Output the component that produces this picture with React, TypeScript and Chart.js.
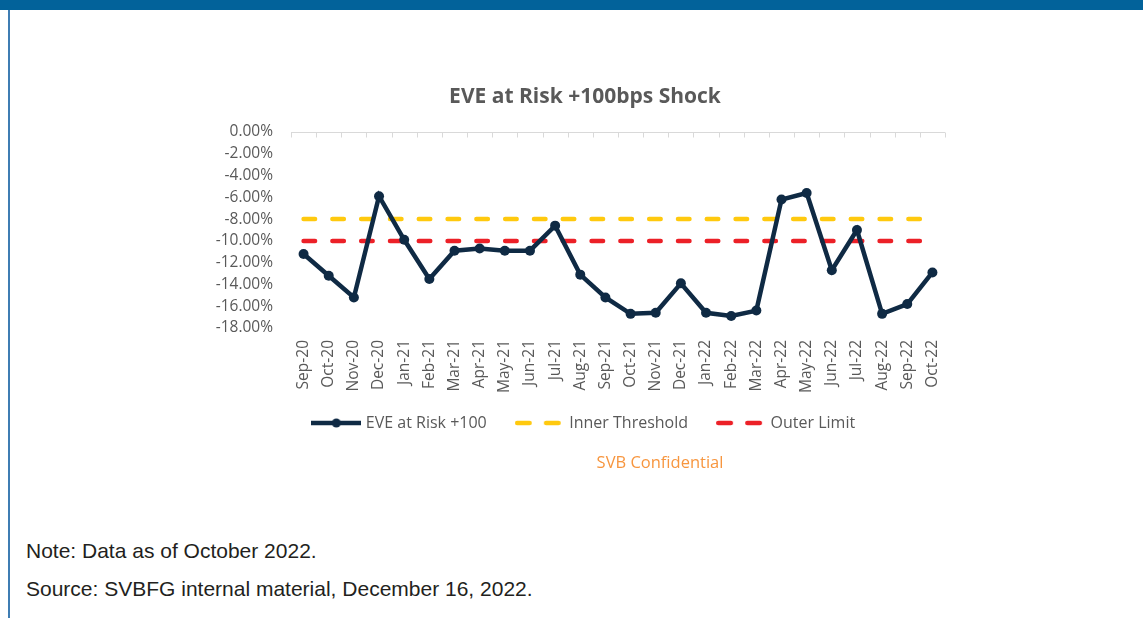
import React, { useEffect, useRef } from 'react';
import { Chart, registerables } from 'chart.js';

Chart.register(...registerables);

const categories = [
  'Sep-20', 'Oct-20', 'Nov-20', 'Dec-20',
  'Jan-21', 'Feb-21', 'Mar-21', 'Apr-21', 'May-21', 'Jun-21',
  'Jul-21', 'Aug-21', 'Sep-21', 'Oct-21', 'Nov-21', 'Dec-21',
  'Jan-22', 'Feb-22', 'Mar-22', 'Apr-22', 'May-22', 'Jun-22',
  'Jul-22', 'Aug-22', 'Sep-22', 'Oct-22',
];

const eveAtRisk = [
  -11.2, -13.2, -15.2, -5.9,
  -9.9, -13.5, -10.9, -10.7, -10.9, -10.9,
  -8.6, -13.1, -15.2, -16.7, -16.6, -13.9,
  -16.6, -16.9, -16.4, -6.2, -5.6, -12.7,
  -9.0, -16.7, -15.8, -12.9,
];

const innerThreshold = [
  -8, -8, -8, -8, -8, -8, -8, -8, -8, -8, -8, -8, -8,
  -8, -8, -8, -8, -8, -8, -8, -8, -8, -8, -8, -8, -8,
];

const outerLimit = [
  -10, -10, -10, -10, -10, -10, -10, -10, -10, -10, -10, -10, -10,
  -10, -10, -10, -10, -10, -10, -10, -10, -10, -10, -10, -10, -10,
];

const seriesNames = ['EVE at Risk +100', 'Inner Threshold', 'Outer Limit'];
const chartTitle = 'EVE at Risk +100bps Shock';
const yMin = -18;
const yMax = 0;
const yStep = 2;

const NAVY = '#0f2a44';
const GOLD = '#ffc90e';
const RED = '#ec2027';
const GREY_TEXT = '#595959';
const FONT = "'Open Sans', sans-serif";

function makeSample(color: string, dashed: boolean, marker: boolean) {
  const c = document.createElement('canvas');
  c.width = 50;
  c.height = 14;
  const g = c.getContext('2d')!;
  g.strokeStyle = color;
  g.lineWidth = dashed ? 4.5 : 4.5;
  g.lineCap = dashed ? 'round' : 'butt';
  if (dashed) g.setLineDash([12.5, 16.5]);
  g.beginPath();
  g.moveTo(dashed ? 2.25 : 0, 7);
  g.lineTo(50, 7);
  g.stroke();
  if (marker) {
    g.setLineDash([]);
    g.fillStyle = color;
    g.beginPath();
    g.arc(25, 7, 4.5, 0, Math.PI * 2);
    g.fill();
  }
  return c;
}

const topAxisPlugin = {
  id: 'topAxis',
  afterLayout(chart: any) {
    // let rotated / wide tick labels draw past their fixed-size scale boxes
    const xs = chart.scales.x;
    const ys = chart.scales.y;
    if (xs) xs.bottom = xs.top + 90;
    if (ys) ys.left = ys.left - 40;
  },
  beforeDatasetsDraw(chart: any) {
    const { ctx, chartArea, scales } = chart;
    const xs = scales.x;
    const ys = scales.y;
    const y0 = Math.round(ys.getPixelForValue(0)) + 0.5;
    const n = xs.ticks.length;
    ctx.save();
    ctx.strokeStyle = '#d9d9d9';
    ctx.lineWidth = 1;
    ctx.beginPath();
    ctx.moveTo(chartArea.left, y0);
    ctx.lineTo(chartArea.right, y0);
    for (let i = 0; i <= n; i++) {
      let px: number;
      if (i === 0) px = chartArea.left;
      else if (i === n) px = chartArea.right;
      else px = (xs.getPixelForTick(i - 1) + xs.getPixelForTick(i)) / 2;
      const rx = Math.round(px) + 0.5;
      ctx.moveTo(rx, y0);
      ctx.lineTo(rx, y0 + 5);
    }
    ctx.stroke();
    ctx.restore();
  },
};

export default function App() {
  const canvasRef = useRef<HTMLCanvasElement | null>(null);

  useEffect(() => {
    if (!canvasRef.current) return;
    const samples = [
      makeSample(NAVY, false, true),
      makeSample(GOLD, true, false),
      makeSample(RED, true, false),
    ];
    const chart = new Chart(canvasRef.current, {
      type: 'line',
      data: {
        labels: categories,
        datasets: [
          {
            label: seriesNames[0],
            data: eveAtRisk,
            borderColor: NAVY,
            backgroundColor: NAVY,
            borderWidth: 4.5,
            pointRadius: 5,
            pointBackgroundColor: NAVY,
            pointBorderWidth: 0,
            tension: 0,
          },
          {
            label: seriesNames[1],
            data: innerThreshold,
            borderColor: GOLD,
            backgroundColor: GOLD,
            borderWidth: 4.5,
            borderDash: [11.5, 17.3],
            borderCapStyle: 'round',
            pointRadius: 0,
          },
          {
            label: seriesNames[2],
            data: outerLimit,
            borderColor: RED,
            backgroundColor: RED,
            borderWidth: 4.5,
            borderDash: [11.5, 17.3],
            borderCapStyle: 'round',
            pointRadius: 0,
          },
        ],
      },
      options: {
        responsive: false,
        animation: false,
        devicePixelRatio: 1,
        layout: { padding: { left: 225, right: 198, top: 0, bottom: 19 } },
        scales: {
          x: {
            type: 'category',
            offset: true,
            grid: { display: false, drawTicks: false },
            border: { display: false },
            ticks: {
              autoSkip: false,
              minRotation: 90,
              maxRotation: 90,
              padding: 12,
              color: GREY_TEXT,
              font: { family: FONT, size: 15.5 },
            },
            afterFit: (s: any) => {
              s.height = 55.5;
            },
          },
          y: {
            min: yMin,
            max: yMax,
            grid: { display: false, drawTicks: false },
            border: { display: false },
            ticks: {
              stepSize: yStep,
              padding: 18,
              color: GREY_TEXT,
              font: { family: FONT, size: 15.5 },
              callback: (v: any) => Number(v).toFixed(2) + '%',
            },
            afterFit: (s: any) => {
              s.width = 66;
            },
          },
        },
        plugins: {
          title: {
            display: true,
            text: chartTitle,
            color: GREY_TEXT,
            font: { family: FONT, size: 21, weight: 'bold' },
            padding: { top: 84.4, bottom: 22.4 },
          },
          legend: {
            display: true,
            position: 'bottom',
            labels: {
              usePointStyle: true,
              pointStyleWidth: 43,
              padding: 31.5,
              color: GREY_TEXT,
              font: { family: FONT, size: 16 },
              generateLabels: (ch: any) => {
                const items = Chart.defaults.plugins.legend.labels.generateLabels(ch);
                return items.map((it: any, i: number) => ({
                  ...it,
                  pointStyle: samples[i],
                  fontColor: GREY_TEXT,
                }));
              },
            },
          },
          tooltip: { enabled: false },
        },
      } as any,
      plugins: [topAxisPlugin],
    });
    return () => chart.destroy();
  }, []);

  return (
    <div
      style={{
        position: 'absolute',
        left: 0,
        top: 0,
        width: 1143,
        height: 618,
        background: '#ffffff',
        overflow: 'hidden',
      }}
    >
      <div style={{ position: 'absolute', left: 0, top: 0, width: 1143, height: 10, background: '#02629a' }} />
      <div style={{ position: 'absolute', left: 8, top: 10, width: 2, height: 608, background: '#3f7db3' }} />
      <canvas
        ref={canvasRef}
        width={1143}
        height={460}
        style={{ position: 'absolute', left: 0, top: 0, width: 1143, height: 460 }}
      />
      <div
        style={{
          position: 'absolute',
          left: 560,
          top: 451.5,
          width: 200,
          textAlign: 'center',
          fontFamily: FONT,
          fontSize: 16.5,
          lineHeight: '20px',
          color: '#f7963f',
          whiteSpace: 'nowrap',
        }}
      >
        SVB Confidential
      </div>
      <div
        style={{
          position: 'absolute',
          left: 26,
          top: 539,
          fontFamily: "'Liberation Sans', Arial, sans-serif",
          fontSize: 21,
          lineHeight: '24px',
          color: '#231f20',
          whiteSpace: 'nowrap',
        }}
      >
        Note: Data as of October 2022.
      </div>
      <div
        style={{
          position: 'absolute',
          left: 26,
          top: 576.7,
          fontFamily: "'Liberation Sans', Arial, sans-serif",
          fontSize: 21,
          lineHeight: '24px',
          color: '#231f20',
          whiteSpace: 'nowrap',
        }}
      >
        Source: SVBFG internal material, December 16, 2022.
      </div>
    </div>
  );
}
